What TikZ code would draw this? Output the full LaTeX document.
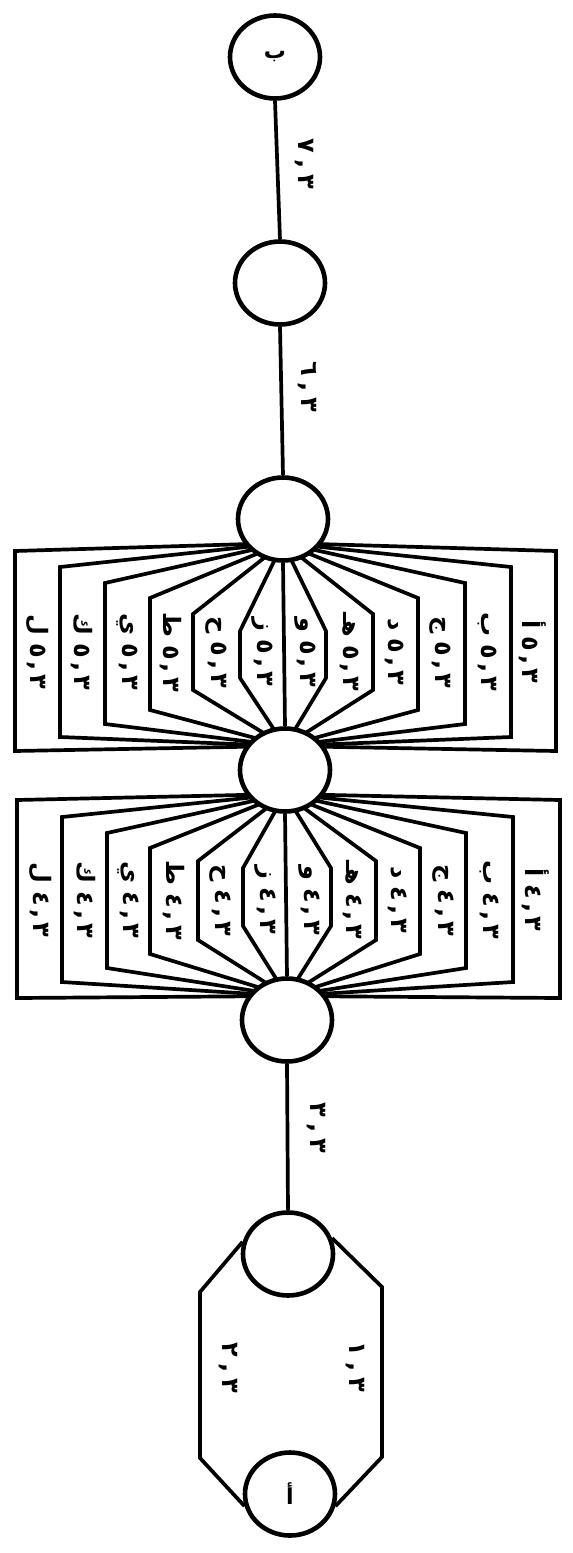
\documentclass[tikz,border=0pt]{standalone}
\usepackage{fontspec}
\newfontfamily\arf[Script=Arabic]{DejaVu Sans}
\usetikzlibrary{calc,shapes.geometric}
\pgfdeclarelayer{bg}
\pgfsetlayers{bg,main}
\newcommand{\glab}[2]{\hbox{#1}\hspace{8pt}\hbox{#2}\hspace{4pt}\hbox{,}\hspace{4pt}\hbox{٣}}
\newcommand{\nlab}[1]{\hbox{#1}\hspace{6pt}\hbox{,}\hspace{6pt}\hbox{٣}}
\begin{document}
\begin{tikzpicture}[x=1pt,y=-1pt,
  vtx/.style={draw,line width=4.6pt,ellipse,minimum width=90pt,minimum height=83pt,inner sep=0pt,fill=white,font=\arf\bfseries\fontsize{22}{22}\selectfont},
  edge/.style={line width=3.7pt,line join=miter},
  elab/.style={rotate=-90,font=\arf\bfseries\fontsize{24}{24}\selectfont,inner sep=0pt}]
\useasboundingbox (0,0) rectangle (573,1553);
% vertices
\node[vtx] (c1) at (275,57) {ب};
\node[vtx] (c2) at (280,283) {};
\node[vtx] (c3) at (283,519) {};
\node[vtx] (c4) at (285,770) {};
\node[vtx] (c5) at (287,1020) {};
\node[vtx] (c6) at (288,1254) {};
\node[vtx] (c7) at (290,1494) {أ};
\begin{pgfonlayer}{bg}
\draw[edge] (c1.south) -- (c2.north);
\draw[edge] (c2.south) -- (c3.north);
\draw[edge] (c3.south) -- (c4.north);
\draw[edge] (c4.south) -- (c5.north);
\draw[edge] (c5.south) -- (c6.north);
% group 3.5
\foreach \xl/\xr/\t/\b in {240/326/631/678, 193/373/614/690, 150/418/598/710, 105/465/583/724, 60/511/567/737, 15/556/551/751}{
  \draw[edge] ($(c3.center)+(0,24)$) -- (\xl,\t) -- (\xl,\b) -- ($(c4.center)+(0,-24)$);
  \draw[edge] ($(c3.center)+(0,24)$) -- (\xr,\t) -- (\xr,\b) -- ($(c4.center)+(0,-24)$);
}
% group 3.4
\foreach \xl/\xr/\t/\b in {243/331/868/926, 198/376/861/940, 150/420/848/954, 107/466/833/968, 62/513/817/982, 17/560/800/998}{
  \draw[edge] ($(c4.center)+(0,24)$) -- (\xl,\t) -- (\xl,\b) -- ($(c5.center)+(0,-24)$);
  \draw[edge] ($(c4.center)+(0,24)$) -- (\xr,\t) -- (\xr,\b) -- ($(c5.center)+(0,-24)$);
}
% bottom pair
\draw[edge] (c6.165) -- (200,1292) -- (200,1458) -- (c7.195);
\draw[edge] (c6.20) -- (382,1287) -- (382,1457) -- (c7.345);
\end{pgfonlayer}
% labels
\node[elab] (l7) at (304,164) {\nlab{٧}};
\node[elab] (l6) at (307,387) {\nlab{٦}};
\node[elab] (l3) at (316,1128) {\nlab{٣}};
\node[elab] (l2) at (228,1368) {\nlab{٢}};
\node[elab] (l1) at (355,1367) {\nlab{١}};
\foreach \x/\L [count=\i] in {37/ل, 82/ك, 127/ي, 171/ط, 216/ح, 262/ز, 305/و, 350/هـ, 395/د, 440/ج, 487/ب, 533/أ}{
  \node[elab] (a\i) at (\x,652) {\glab{\L}{٥}};
}
\foreach \x/\L [count=\i] in {40/ل, 85/ك, 128/ي, 174/ط, 220/ح, 265/ز, 309/و, 353/هـ, 398/د, 443/ج, 489/ب, 536/أ}{
  \node[elab] (b\i) at (\x,900) {\glab{\L}{٤}};
}
\end{tikzpicture}
\end{document}
